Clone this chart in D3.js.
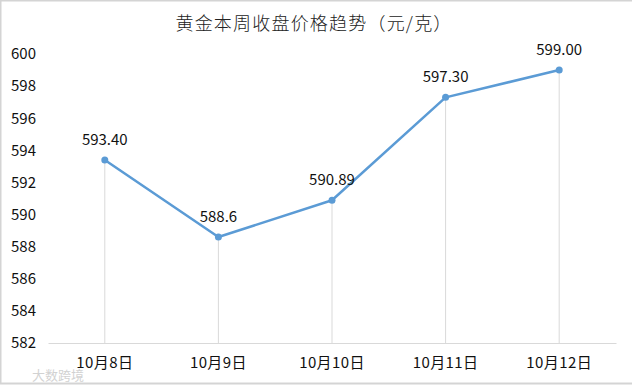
<!DOCTYPE html>
<html>
<head>
<meta charset="utf-8">
<script src="https://cdnjs.cloudflare.com/ajax/libs/d3/7.8.5/d3.min.js"></script>
<style>
  html, body { margin: 0; padding: 0; background: #fff; }
  svg { display: block; }
  text { font-family: "Noto Sans CJK SC", "Noto Sans", sans-serif; fill: #111; }
</style>
</head>
<body>
<div id="chart"></div>
<script>
const title = '黄金本周收盘价格趋势（元/克）';
const days = ['10月8日', '10月9日', '10月10日', '10月11日', '10月12日'];
const prices = [593.4, 588.6, 590.89, 597.3, 599.0];
const priceLabels = ['593.40', '588.6', '590.89', '597.30', '599.00'];
const yTicks = [582, 584, 586, 588, 590, 592, 594, 596, 598, 600];

const width = 632;
const height = 385;
const MARGIN_TOP = 54;
const MARGIN_BOTTOM = 42;
const MARGIN_LEFT = 48;
const MARGIN_RIGHT = 16;

const $svg = d3.select('#chart').append('svg')
  .attr('width', width)
  .attr('height', height);

// outer frame of the screenshot
$svg.append('rect')
  .attr('x', 0.5).attr('y', 0.5)
  .attr('width', width + 4).attr('height', height - 2)
  .attr('fill', '#fff')
  .attr('stroke', '#d4d4d4')
  .attr('stroke-width', 2);

const scaleX = d3.scaleBand()
  .domain(days)
  .range([MARGIN_LEFT, width - MARGIN_RIGHT]);

const scaleY = d3.scaleLinear()
  .domain([582, 600])
  .range([height - MARGIN_BOTTOM, MARGIN_TOP]);

const cx = d => scaleX(d) + scaleX.bandwidth() / 2;

$svg.append('text')
  .attr('x', 314)
  .attr('y', 30)
  .attr('text-anchor', 'middle')
  .style('font-size', '18px')
  .style('font-weight', 300)
  .style('letter-spacing', '1.2px')
  .style('fill', '#222')
  .text(title);

// y axis: labels only
const axisY = $svg.append('g')
  .attr('transform', `translate(${MARGIN_LEFT}, 0)`)
  .call(d3.axisLeft(scaleY).tickValues(yTicks).tickSize(0).tickPadding(12));
axisY.select('.domain').remove();
axisY.selectAll('text').style('font-size', '15px');

// x axis
const axisX = $svg.append('g')
  .attr('transform', `translate(0, ${height - MARGIN_BOTTOM})`)
  .call(d3.axisBottom(scaleX).tickSize(0).tickPadding(14));
axisX.select('.domain').attr('stroke', '#d9d9d9');
axisX.selectAll('text').style('font-size', '15px').style('letter-spacing', '0.4px');

// drop lines from each point to the axis
$svg.append('g').selectAll('line')
  .data(days)
  .join('line')
  .attr('x1', d => cx(d))
  .attr('x2', d => cx(d))
  .attr('y1', (d, i) => scaleY(prices[i]))
  .attr('y2', height - MARGIN_BOTTOM)
  .attr('stroke', '#d9d9d9')
  .attr('stroke-width', 1);

const line = d3.line()
  .x((d, i) => cx(days[i]))
  .y(d => scaleY(d));

$svg.append('path')
  .datum(prices)
  .attr('d', line)
  .attr('fill', 'none')
  .attr('stroke', '#5b9bd5')
  .attr('stroke-width', 2.5)
  .attr('stroke-linejoin', 'round');

$svg.append('g').selectAll('circle')
  .data(prices)
  .join('circle')
  .attr('cx', (d, i) => cx(days[i]))
  .attr('cy', d => scaleY(d))
  .attr('r', 3.5)
  .attr('fill', '#5b9bd5');

$svg.append('g').selectAll('text')
  .data(prices)
  .join('text')
  .attr('x', (d, i) => cx(days[i]))
  .attr('y', d => scaleY(d) - 15)
  .attr('text-anchor', 'middle')
  .style('font-size', '15px')
  .text((d, i) => priceLabels[i]);

// faint watermark in the corner
$svg.append('text')
  .attr('x', 32)
  .attr('y', 380)
  .style('font-size', '13px')
  .style('fill', '#d2d2d2')
  .text('大数跨境');
</script>
</body>
</html>
